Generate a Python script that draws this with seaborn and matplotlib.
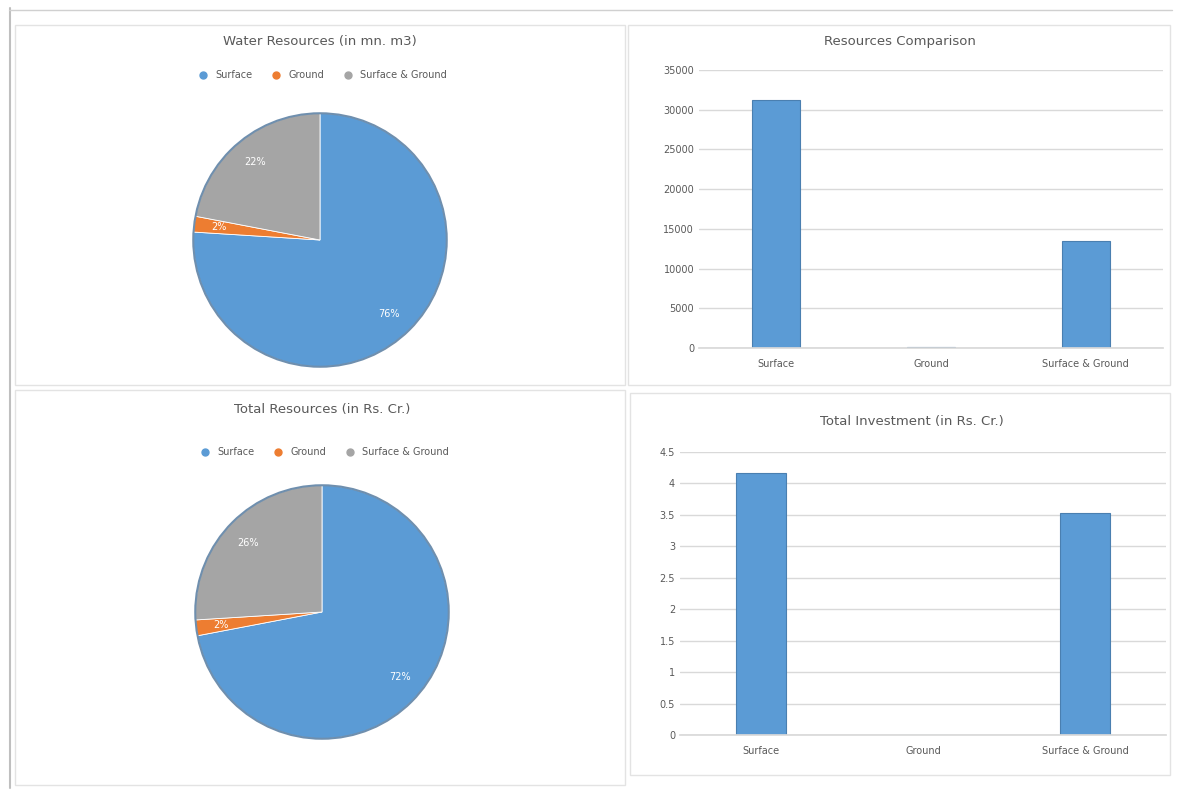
import numpy as np
import pandas as pd
import seaborn as sns
import matplotlib
matplotlib.use('Agg')
import matplotlib.pyplot as plt
from matplotlib.lines import Line2D

# ------------------------ Data ------------------------
pie_labels = ['Surface', 'Ground', 'Surface & Ground']
pie_top_values = [76, 2, 22]
pie_bottom_values = [72, 2, 26]

bar_categories = ['Surface', 'Ground', 'Surface & Ground']
bar_top_values = [31200, 150, 13500]
bar_bottom_values = [4.17, 0, 3.53]

top_pie_title = 'Water Resources (in mn. m3)'
top_bar_title = 'Resources Comparison'
bottom_pie_title = 'Total Resources (in Rs. Cr.)'
bottom_bar_title = 'Total Investment (in Rs. Cr.)'

BLUE = '#5B9BD5'
ORANGE = '#ED7D31'
GRAY = '#A5A5A5'
TXT = '#595959'

# ------------------------ Styling Setup ------------------------
sns.set_theme(style='white')
plt.rcParams['font.family'] = ['DejaVu Sans']

fig = plt.figure(figsize=(11.84, 7.96), dpi=100)
fig.patch.set_facecolor('white')

# panel frames (dashboard look)
def frame(x0, y0, x1, y1):
    fig.add_artist(plt.Rectangle((x0 / 1184, 1 - y1 / 796), (x1 - x0) / 1184, (y1 - y0) / 796,
                                 transform=fig.transFigure, fill=False, edgecolor='#E3E3E3', lw=1))

frame(15, 25, 625, 385)
frame(628, 25, 1170, 385)
frame(15, 390, 625, 785)
frame(630, 393, 1170, 775)
fig.add_artist(Line2D([10 / 1184, 10 / 1184], [0.01, 0.99], transform=fig.transFigure, color='#BFBFBF', lw=1.5))
fig.add_artist(Line2D([0.008, 0.99], [1 - 10 / 796, 1 - 10 / 796], transform=fig.transFigure, color='#D0D0D0', lw=1))


def legend_row(y, cx):
    handles = [Line2D([], [], marker='o', ls='', color=c, markersize=5) for c in (BLUE, ORANGE, GRAY)]
    fig.legend(handles, pie_labels, loc='center', bbox_to_anchor=(cx / 1184, 1 - y / 796),
               ncol=3, frameon=False, fontsize=7, labelcolor=TXT, handletextpad=0.2, columnspacing=1.5)


def draw_pie(ax, values):
    ax.pie(values, colors=[BLUE, ORANGE, GRAY], startangle=90, counterclock=False,
           autopct=lambda p: f'{p:.0f}%', pctdistance=0.8,
           textprops={'color': 'white', 'fontsize': 7},
           wedgeprops={'edgecolor': 'white', 'linewidth': 0.6})
    ax.set_xlim(-1.01, 1.01)
    ax.set_ylim(-1.01, 1.01)
    ax.set_aspect('equal')
    ax.add_artist(plt.Circle((0, 0), 1.0, fill=False, edgecolor='#6f8fae', lw=1.5))


def draw_bar(ax, values, ticks, fmt):
    df = pd.DataFrame({'category': bar_categories, 'value': values})
    sns.barplot(data=df, x='category', y='value', color=BLUE, width=0.31,
                edgecolor='#4a7fb0', linewidth=0.8, saturation=1, ax=ax)
    ax.set_ylim(ticks[0], ticks[-1])
    ax.set_yticks(ticks)
    ax.set_yticklabels([fmt(t) for t in ticks])
    ax.yaxis.grid(True, color='#D9D9D9', lw=1)
    ax.set_axisbelow(True)
    ax.set_xlabel('')
    ax.set_ylabel('')
    for s in ['top', 'right', 'left']:
        ax.spines[s].set_visible(False)
    ax.spines['bottom'].set_color('#D9D9D9')
    ax.tick_params(axis='both', labelsize=7, colors=TXT, length=0)
    ax.tick_params(axis='x', pad=8)


# ------------------------ Top-left pie ------------------------
fig.text(320 / 1184, 1 - 42 / 796, top_pie_title, ha='center', va='center', fontsize=9.5, color=TXT)
legend_row(75, 320)
ax1 = fig.add_axes([(320 - 128) / 1184, 1 - 368 / 796, 256 / 1184, 256 / 796])
draw_pie(ax1, pie_top_values)

# ------------------------ Top-right bars ------------------------
fig.text(900 / 1184, 1 - 42 / 796, top_bar_title, ha='center', va='center', fontsize=9.5, color=TXT)
ax2 = fig.add_axes([699 / 1184, 1 - 348 / 796, 464 / 1184, 278 / 796])
draw_bar(ax2, bar_top_values, np.arange(0, 35001, 5000), lambda t: f'{t:.0f}')

# ------------------------ Bottom-left pie ------------------------
fig.text(322 / 1184, 1 - 410 / 796, bottom_pie_title, ha='center', va='center', fontsize=9.5, color=TXT)
legend_row(452, 322)
ax3 = fig.add_axes([(322 - 128) / 1184, 1 - 740 / 796, 256 / 1184, 256 / 796])
draw_pie(ax3, pie_bottom_values)

# ------------------------ Bottom-right bars ------------------------
fig.text(912 / 1184, 1 - 422 / 796, bottom_bar_title, ha='center', va='center', fontsize=9.5, color=TXT)
ax4 = fig.add_axes([680 / 1184, 1 - 735 / 796, 486 / 1184, 283 / 796])
draw_bar(ax4, bar_bottom_values, np.arange(0, 4.51, 0.5), lambda t: f'{t:g}')

fig.savefig('out.png', dpi=100, facecolor='white')
